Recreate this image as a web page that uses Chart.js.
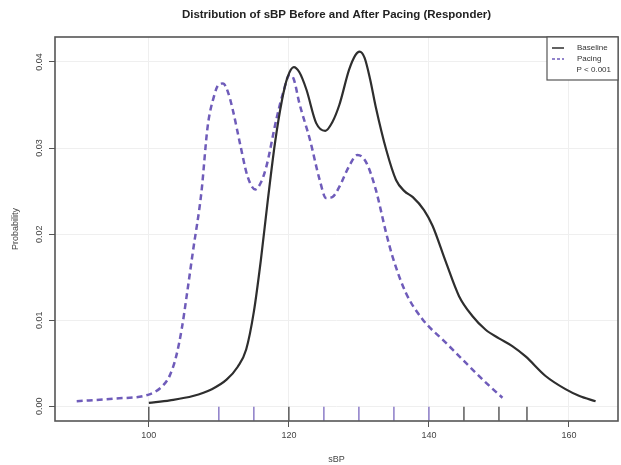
<!DOCTYPE html>
<html>
<head>
<meta charset="utf-8">
<script src="https://cdn.jsdelivr.net/npm/chart.js@4"></script>
<style>
  body { margin: 0; background: #fff; }
</style>
</head>
<body>
<canvas id="densityChart" width="621" height="465"></canvas>
<script>
// Baseline density (solid black)
const baselineX = [100, 103, 106.3, 109, 111.1, 112.7, 113.9, 115, 116, 117, 118, 119, 119.8, 120.7, 121.5, 122.5, 123.9, 125.2, 126.2, 127.2, 128.6, 129.5, 130.1, 130.8, 131.6, 132.4, 133.9, 135.3, 136.5, 137.7, 139.3, 140.5, 142.4, 144.3, 146.2, 148.1, 150, 151.9, 153.8, 156.7, 159.5, 161.5, 163.8];
const baselineY = [0.0004, 0.0007, 0.0012, 0.0020, 0.0031, 0.0046, 0.0066, 0.0110, 0.0170, 0.0240, 0.0305, 0.0355, 0.0382, 0.0394, 0.0388, 0.0368, 0.0329, 0.0320, 0.0330, 0.0350, 0.0391, 0.0408, 0.0412, 0.0405, 0.0380, 0.0348, 0.0298, 0.0263, 0.0250, 0.0243, 0.0228, 0.0210, 0.0168, 0.0128, 0.0105, 0.0089, 0.0079, 0.0070, 0.0058, 0.0035, 0.0020, 0.0012, 0.0006];

// Pacing density (dashed purple)
const pacingX = [89.7, 95, 100.1, 102, 103, 103.9, 104.7, 105.4, 106.3, 107.5, 108.4, 109.3, 110, 110.6, 111.3, 112, 113, 114.1, 115.2, 116, 116.8, 118.2, 119.2, 120.1, 120.7, 121.5, 123, 124.4, 125.3, 126.2, 127.2, 128.6, 129.8, 131, 132.4, 133.9, 134.8, 136.7, 139.1, 142.4, 145.7, 148.6, 150.5];
const pacingY = [0.0006, 0.0009, 0.0014, 0.0024, 0.0036, 0.0058, 0.0090, 0.0128, 0.0180, 0.0248, 0.0325, 0.0360, 0.0374, 0.0375, 0.0365, 0.0344, 0.0306, 0.0267, 0.0252, 0.0260, 0.0279, 0.0333, 0.0365, 0.0385, 0.0380, 0.0352, 0.0310, 0.0263, 0.0242, 0.0243, 0.0255, 0.0279, 0.0292, 0.0284, 0.0252, 0.0201, 0.0174, 0.0132, 0.0101, 0.0074, 0.0047, 0.0024, 0.0010];

// Rug marks along the bottom
const baselineRug = [100, 120, 145, 150, 154];
const pacingRug = [110, 115, 125, 130, 135, 140];

const xTicks = [100, 120, 140, 160];
const yTicks = [0.00, 0.01, 0.02, 0.03, 0.04];

const legendLabels = ['Baseline', 'Pacing', 'P < 0.001'];

const black = '#2e2e2e';
const purple = '#6f5cba';
const rugLevel = -0.00085;

function toPoints(xs, ys) {
    return xs.map((x, i) => ({ x: x, y: ys[i] }));
}

// R-style box, title, rotated y labels and legend
const rStyle = {
    id: 'rStyle',
    afterDraw(chart) {
        const ctx = chart.ctx;
        const area = chart.chartArea;
        const yScale = chart.scales.y;
        const midX = (area.left + area.right) / 2;

        ctx.save();
        ctx.strokeStyle = '#555';
        ctx.lineWidth = 1.6;
        ctx.strokeRect(area.left, area.top, area.right - area.left, area.bottom - area.top);

        // title
        ctx.fillStyle = '#222';
        ctx.font = 'bold 11.5px "Liberation Sans", Arial, sans-serif';
        ctx.textAlign = 'center';
        ctx.textBaseline = 'middle';
        ctx.fillText('Distribution of sBP Before and After Pacing (Responder)', midX, 15);

        // y tick labels, vertical like R
        ctx.fillStyle = '#444';
        ctx.font = '9px "Liberation Sans", Arial, sans-serif';
        yTicks.forEach(v => {
            const py = yScale.getPixelForValue(v);
            ctx.save();
            ctx.translate(40, py);
            ctx.rotate(-Math.PI / 2);
            ctx.fillText(v.toFixed(2), 0, 0);
            ctx.restore();
        });

        // legend box
        const lx = 547, ly = area.top, lw = area.right - 547, lh = 43;
        ctx.fillStyle = '#fff';
        ctx.fillRect(lx, ly, lw, lh);
        ctx.strokeStyle = '#555';
        ctx.lineWidth = 1.2;
        ctx.strokeRect(lx, ly, lw, lh);

        ctx.font = '8px "Liberation Sans", Arial, sans-serif';
        ctx.textAlign = 'left';
        ctx.fillStyle = '#333';
        const rows = [ly + 11, ly + 22, ly + 33];
        ctx.lineWidth = 1.5;
        ctx.strokeStyle = black;
        ctx.beginPath();
        ctx.moveTo(552, rows[0]);
        ctx.lineTo(564, rows[0]);
        ctx.stroke();
        ctx.strokeStyle = purple;
        ctx.setLineDash([3, 2]);
        ctx.beginPath();
        ctx.moveTo(552, rows[1]);
        ctx.lineTo(564, rows[1]);
        ctx.stroke();
        ctx.setLineDash([]);
        ctx.fillText(legendLabels[0], 577, rows[0]);
        ctx.fillText(legendLabels[1], 577, rows[1]);
        ctx.textAlign = 'right';
        ctx.fillText(legendLabels[2], 611, rows[2]);
        ctx.restore();
    }
};

const ctx = document.getElementById('densityChart').getContext('2d');
new Chart(ctx, {
    type: 'line',
    data: {
        datasets: [{
            label: 'Baseline',
            data: toPoints(baselineX, baselineY),
            borderColor: black,
            borderWidth: 2.2,
            pointRadius: 0,
            fill: false,
            cubicInterpolationMode: 'monotone'
        }, {
            label: 'Pacing',
            data: toPoints(pacingX, pacingY),
            borderColor: purple,
            borderWidth: 2.5,
            borderDash: [6, 4],
            pointRadius: 0,
            fill: false,
            cubicInterpolationMode: 'monotone'
        }, {
            label: 'Baseline rug',
            type: 'scatter',
            data: baselineRug.map(v => ({ x: v, y: rugLevel })),
            pointStyle: 'line',
            rotation: 90,
            radius: 7,
            borderColor: '#333',
            borderWidth: 1.2
        }, {
            label: 'Pacing rug',
            type: 'scatter',
            data: pacingRug.map(v => ({ x: v, y: rugLevel })),
            pointStyle: 'line',
            rotation: 90,
            radius: 7,
            borderColor: purple,
            borderWidth: 1.2
        }]
    },
    options: {
        responsive: false,
        animation: false,
        layout: { autoPadding: false, padding: { left: 0, right: 3, top: 37, bottom: 0 } },
        scales: {
            x: {
                type: 'linear',
                min: 86.6,
                max: 167,
                border: { display: false },
                grid: { color: '#efefef', tickColor: '#555', tickLength: 6 },
                ticks: {
                    stepSize: 20,
                    includeBounds: false,
                    color: '#444',
                    padding: 3,
                    font: { family: '"Liberation Sans", Arial, sans-serif', size: 9 },
                    callback: v => xTicks.includes(v) ? String(v) : ''
                },
                title: {
                    display: true,
                    text: 'sBP',
                    color: '#444',
                    padding: { top: 0, bottom: 0 },
                    font: { family: '"Liberation Sans", Arial, sans-serif', size: 9 }
                },
                afterFit: scale => {
                    scale.height = 44;
                    scale.paddingLeft = 0;
                    scale.paddingRight = 0;
                }
            },
            y: {
                type: 'linear',
                min: -0.0017,
                max: 0.0429,
                border: { display: false },
                grid: { color: '#efefef', tickColor: '#555', tickLength: 6 },
                ticks: { stepSize: 0.01, includeBounds: false, display: false },
                title: {
                    display: true,
                    text: 'Probability',
                    color: '#444',
                    padding: { top: 10, bottom: 0 },
                    font: { family: '"Liberation Sans", Arial, sans-serif', size: 9 }
                },
                afterFit: scale => {
                    scale.width = 55;
                    scale.paddingTop = 0;
                    scale.paddingBottom = 0;
                }
            }
        },
        plugins: {
            legend: { display: false },
            tooltip: { enabled: false }
        }
    },
    plugins: [rStyle]
});
</script>
</body>
</html>
